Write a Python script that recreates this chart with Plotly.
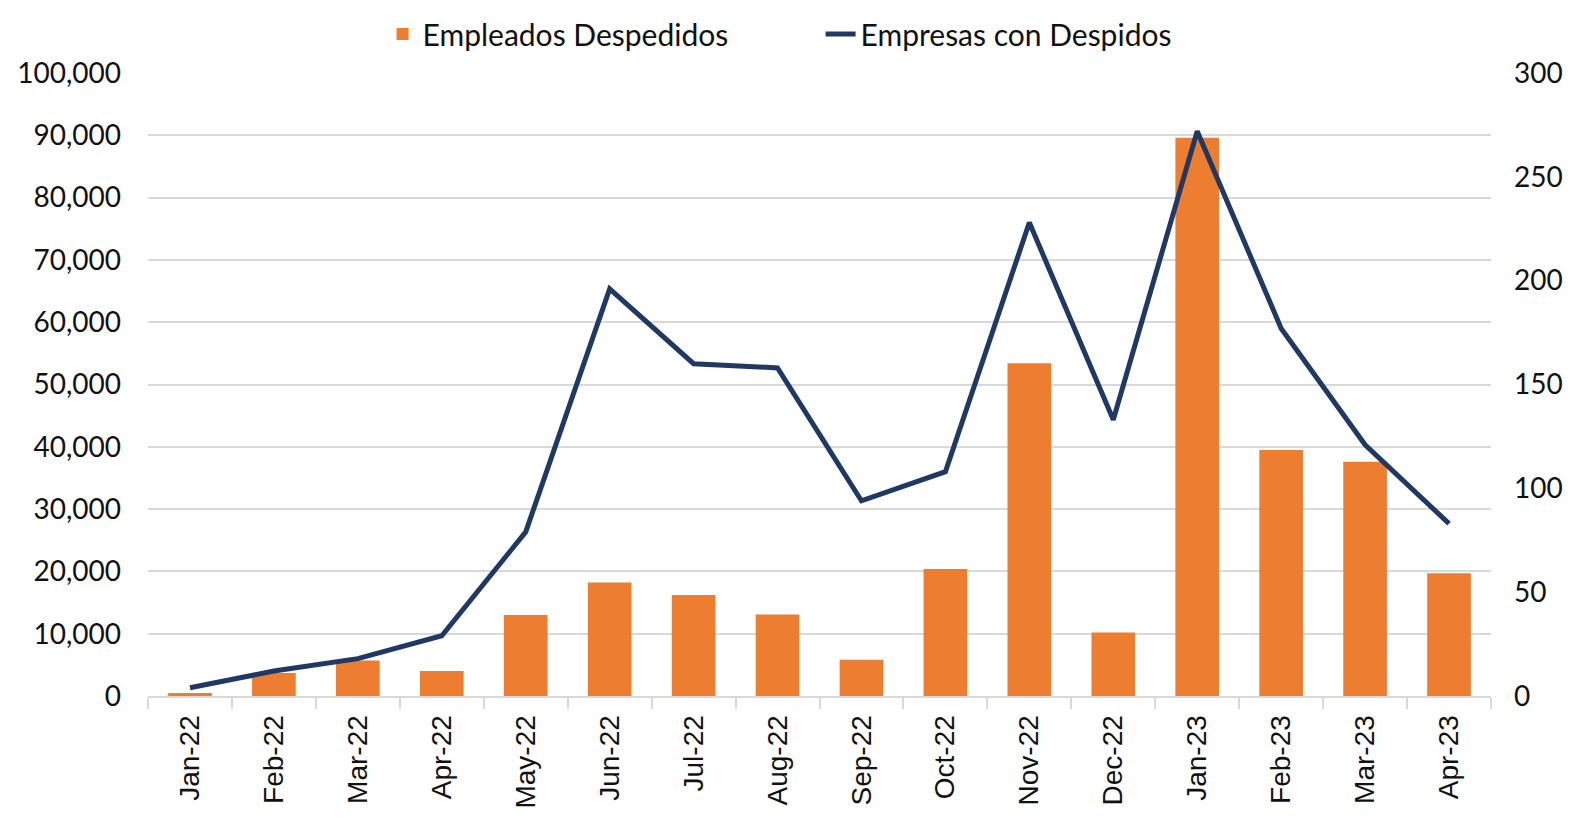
import plotly.graph_objects as go

months = ["Jan-22", "Feb-22", "Mar-22", "Apr-22", "May-22", "Jun-22", "Jul-22", "Aug-22",
          "Sep-22", "Oct-22", "Nov-22", "Dec-22", "Jan-23", "Feb-23", "Mar-23", "Apr-23"]
empleados = [500, 3700, 5700, 4000, 13000, 18200, 16200, 13100,
             5800, 20400, 53400, 10200, 89600, 39500, 37600, 19700]
empresas = [4, 12, 18, 29, 79, 196, 160, 158,
            94, 108, 228, 133, 272, 177, 121, 83]

left_ticks = [0, 10000, 20000, 30000, 40000, 50000, 60000, 70000, 80000, 90000, 100000]
right_ticks = [0, 50, 100, 150, 200, 250, 300]

font_family = "Lato, Noto Sans, sans-serif"

fig = go.Figure()
fig.add_trace(go.Bar(x=months, y=empleados, name="Empleados Despedidos",
                     marker=dict(color="#ED7D31", line=dict(width=0)), yaxis="y"))
fig.add_trace(go.Scatter(x=months, y=empresas, name="Empresas con Despidos", mode="lines",
                         line=dict(color="#203864", width=5), yaxis="y2"))

fig.update_layout(
    width=1584, height=819,
    margin=dict(l=140, r=101, t=65, b=131, autoexpand=False),
    plot_bgcolor="white", paper_bgcolor="white",
    font=dict(family=font_family, size=28, color="#111111"),
    bargap=0.48,
    showlegend=True,
    legend=dict(orientation="h", x=0.513, xanchor="center", xref="container",
                y=1.0, yanchor="top", yref="container",
                font=dict(size=30), entrywidth=393, traceorder="normal",
                bgcolor="rgba(0,0,0,0)"),
    xaxis=dict(type="category", tickangle=-90, showgrid=False, automargin=False,
               showline=True, linecolor="#D9D9D9", linewidth=2,
               ticks="outside", tickson="boundaries", ticklen=11, tickcolor="#D9D9D9", tickwidth=2,
               tickfont=dict(size=28, family="Liberation Sans, Arial, sans-serif"),
               ticklabelstandoff=6),
    yaxis=dict(range=[0, 100000], tickvals=left_ticks, tickformat=",", automargin=False,
               showgrid=True, gridcolor="#D9D9D9", gridwidth=2,
               zeroline=False, showline=False, ticks="", ticklen=0,
               tickfont=dict(size=28), ticklabelstandoff=26),
    yaxis2=dict(range=[0, 300], tickvals=right_ticks, overlaying="y", side="right",
                showgrid=False, zeroline=False, showline=False, ticks="", automargin=False,
                tickfont=dict(size=28), ticklabelstandoff=22),
)

fig.write_html("out.html")
